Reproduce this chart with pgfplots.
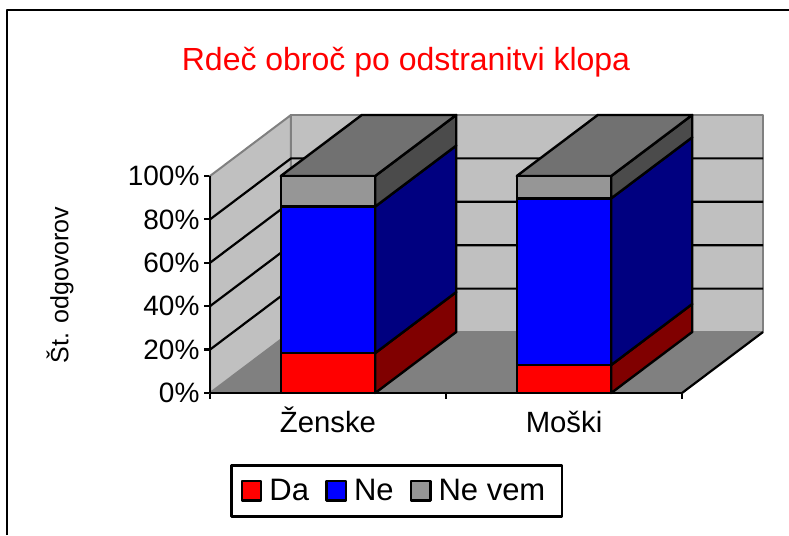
\documentclass[border=0pt]{standalone}
\usepackage{pgfplots}
\pgfplotsset{compat=1.18}
\usepackage{fontspec}
\setmainfont{Liberation Sans}
\definecolor{Wall}{HTML}{C0C0C0}
\definecolor{Floor}{HTML}{808080}
\definecolor{Edge}{HTML}{808080}
\definecolor{DaF}{HTML}{FF0000}
\definecolor{DaS}{HTML}{800000}
\definecolor{NeF}{HTML}{0000FF}
\definecolor{NeS}{HTML}{000080}
\definecolor{NvF}{HTML}{969696}
\definecolor{NvS}{HTML}{4B4B4B}
\definecolor{NvT}{HTML}{717171}
\begin{document}
\begin{tikzpicture}[x=1pt,y=1pt,line join=round]
\path[use as bounding box] (0,0) rectangle (789,535);
\begin{axis}[at={(210pt,142pt)},anchor=south west,scale only axis,
  width=553pt,height=278pt,
  xmin=0,xmax=2.3432,ymin=0,ymax=128.1,clip=false,
  axis lines=left,axis line style={draw=none,-},
  tick align=outside,major tick length=6pt,
  xtick={0.5,1.5},xticklabels={Ženske,Moški},
  x tick style={draw=none},
  extra x ticks={0,1,2},extra x tick labels={},
  extra x tick style={x tick style={draw=black,line width=2.2pt}},
  ytick={0,20,40,60,80,100},
  y tick style={draw=black,line width=2.2pt},
  yticklabel={\pgfmathprintnumber{\tick}\%},
  /pgf/number format/assume math mode=true,
  y tick label style={font=\fontsize{28}{30}\selectfont,xshift=-1pt},
  x tick label style={font=\fontsize{29.3}{31}\selectfont,text height=29.7pt,text depth=0pt},
  title={Rdeč obroč po odstranitvi klopa},
  every axis title shift=0pt,
  title style={at={(axis description cs:0.3544,1.191)},anchor=center,text=red,font=\fontsize{32}{34}\selectfont},
  ylabel={Št. odgovorov},
  ylabel style={at={(axis description cs:-0.2712,0.3885)},anchor=center,font=\fontsize{25}{28}\selectfont},
  legend columns=3,
  legend style={at={(axis description cs:0.3381,-0.3525)},anchor=center,draw=black,line width=2.2pt,
    font=\fontsize{31}{33}\selectfont,inner xsep=9pt,inner ysep=12pt,
    /tikz/every odd column/.append style={column sep=5pt},
    /tikz/every even column/.append style={column sep=14pt}},
  legend image code/.code={\draw[#1,line width=2.4pt] (0pt,-9.7pt) rectangle (19.5pt,9.7pt);},
]
% floor and walls
\addplot[forget plot,fill=Floor,draw=Edge,line width=1pt] coordinates {(0,0) (2,0) (2.3432,28.1) (0.3432,28.1)} --cycle;
\addplot[forget plot,fill=Wall,draw=Edge,line width=2pt] coordinates {(0,0) (0.3432,28.1) (0.3432,128.1) (0,100)} --cycle;
\addplot[forget plot,fill=Wall,draw=Edge,line width=2pt] coordinates {(0.3432,28.1) (2.3432,28.1) (2.3432,128.1) (0.3432,128.1)} --cycle;
% gridlines
\addplot[forget plot,black,line width=2.2pt] coordinates {(0,20) (0.3432,48.1) (2.3432,48.1)};
\addplot[forget plot,black,line width=2.2pt] coordinates {(0,40) (0.3432,68.1) (2.3432,68.1)};
\addplot[forget plot,black,line width=2.2pt] coordinates {(0,60) (0.3432,88.1) (2.3432,88.1)};
\addplot[forget plot,black,line width=2.2pt] coordinates {(0,80) (0.3432,108.1) (2.3432,108.1)};
% front floor edge
\addplot[forget plot,black,line width=2.2pt] coordinates {(2,0) (2.3432,28.1)};
% bar 1, side and top faces
\addplot[forget plot,fill=DaS,draw=black,line width=2.4pt] coordinates {(0.7,0) (1.0432,28.1) (1.0432,46.5) (0.7,18.4)} --cycle;
\addplot[forget plot,fill=NeS,draw=black,line width=2.4pt] coordinates {(0.7,18.4) (1.0432,46.5) (1.0432,114) (0.7,85.9)} --cycle;
\addplot[forget plot,fill=NvS,draw=black,line width=2.4pt] coordinates {(0.7,85.9) (1.0432,114) (1.0432,128.1) (0.7,100)} --cycle;
\addplot[forget plot,fill=NvT,draw=black,line width=2.4pt] coordinates {(0.3,100) (0.7,100) (1.0432,128.1) (0.6432,128.1)} --cycle;
% bar 2, side and top faces
\addplot[forget plot,fill=DaS,draw=black,line width=2.4pt] coordinates {(1.7,0) (2.0432,28.1) (2.0432,41) (1.7,12.9)} --cycle;
\addplot[forget plot,fill=NeS,draw=black,line width=2.4pt] coordinates {(1.7,12.9) (2.0432,41) (2.0432,117.8) (1.7,89.7)} --cycle;
\addplot[forget plot,fill=NvS,draw=black,line width=2.4pt] coordinates {(1.7,89.7) (2.0432,117.8) (2.0432,128.1) (1.7,100)} --cycle;
\addplot[forget plot,fill=NvT,draw=black,line width=2.4pt] coordinates {(1.3,100) (1.7,100) (2.0432,128.1) (1.6432,128.1)} --cycle;
% bar 2, front faces
\addplot[forget plot,fill=DaF,draw=black,line width=2.4pt] coordinates {(1.3,0) (1.7,0) (1.7,12.9) (1.3,12.9)} --cycle;
\addplot[forget plot,fill=NeF,draw=black,line width=2.4pt] coordinates {(1.3,12.9) (1.7,12.9) (1.7,89.7) (1.3,89.7)} --cycle;
\addplot[forget plot,fill=NvF,draw=black,line width=2.4pt] coordinates {(1.3,89.7) (1.7,89.7) (1.7,100) (1.3,100)} --cycle;
% bar 1, front faces (these carry the legend)
\addplot[fill=DaF,draw=black,line width=2.4pt] coordinates {(0.3,0) (0.7,0) (0.7,18.4) (0.3,18.4)} --cycle;
\addlegendentry{Da}
\addplot[fill=NeF,draw=black,line width=2.4pt] coordinates {(0.3,18.4) (0.7,18.4) (0.7,85.9) (0.3,85.9)} --cycle;
\addlegendentry{Ne}
\addplot[fill=NvF,draw=black,line width=2.4pt] coordinates {(0.3,85.9) (0.7,85.9) (0.7,100) (0.3,100)} --cycle;
\addlegendentry{Ne vem\hspace*{6pt}}
% axis lines
\addplot[forget plot,black,line width=2.4pt] coordinates {(0,100) (0,0) (2,0)};
\end{axis}
\draw[black,line width=2.4pt] (7,0) -- (7,525) -- (789,525);
\end{tikzpicture}
\end{document}
